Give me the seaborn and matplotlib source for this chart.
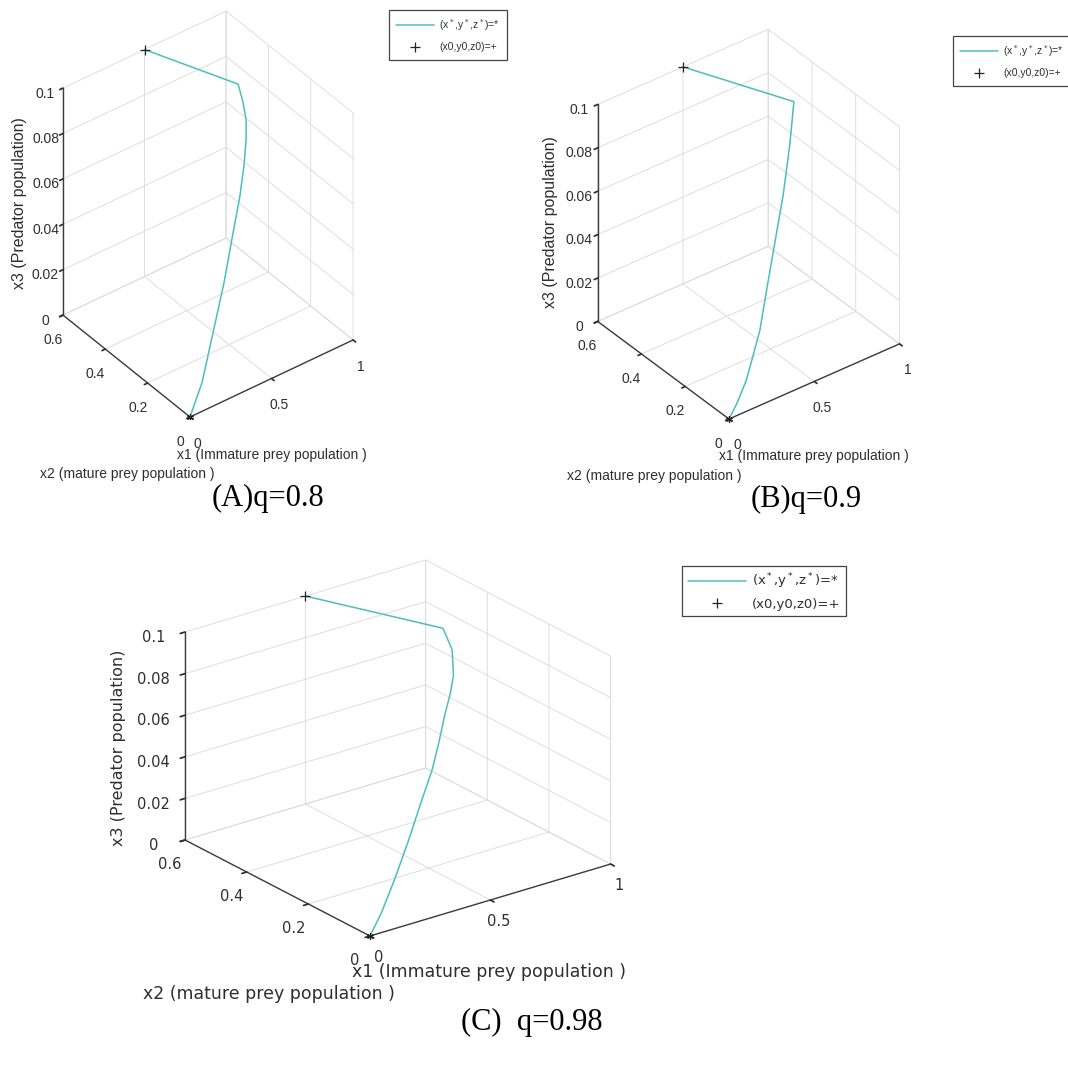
import matplotlib
matplotlib.use("Agg")
import matplotlib.pyplot as plt
from mpl_toolkits.mplot3d import proj3d
import seaborn as sns

sns.set_theme(style="white")
plt.rcParams["font.family"] = ["Liberation Sans", "DejaVu Sans"]
plt.rcParams["grid.color"] = "#d9d9d9"
plt.rcParams["grid.linewidth"] = 0.6
plt.rcParams["axes3d.grid"] = True

W, H = 1068, 1074

# ---- axis ticks -------------------------------------------------------
x1_ticks = [0, 0.5, 1]
x1_ticklabels = ["0", "0.5", "1"]
x2_ticks = [0, 0.2, 0.4, 0.6]
x2_ticklabels = ["0", "0.2", "0.4", "0.6"]
x3_ticks = [0, 0.02, 0.04, 0.06, 0.08, 0.1]
x3_ticklabels = ["0", "0.02", "0.04", "0.06", "0.08", "0.1"]

x1_label = "x1 (Immature prey population )"
x2_label = "x2 (mature prey population )"
x3_label = "x3 (Predator population)"
legend_labels = ["(x$^*$,y$^*$,z$^*$)=*", "(x0,y0,z0)=+"]

# ---- solution trajectories (x1, x2, x3) for each fractional order q ----
q_values = [0.8, 0.9, 0.98]
captions = ["(A)q=0.8", "(B)q=0.9", "(C)  q=0.98"]

x1_q080 = [0.50, 0.695, 0.660, 0.617, 0.562, 0.495, 0.424, 0.342, 0.255,
           0.164, 0.081, 0.0]
x2_q080 = [0.60, 0.308, 0.258, 0.210, 0.168, 0.126, 0.090, 0.060, 0.036,
           0.018, 0.006, 0.0]
x3_q080 = [0.100, 0.100, 0.0970, 0.0942, 0.0904, 0.0848, 0.0767, 0.065,
           0.0477, 0.030, 0.0118, 0.0]

x1_q090 = [0.50, 0.736, 0.588, 0.456, 0.343, 0.270, 0.208, 0.155, 0.109,
           0.050, 0.0]
x2_q090 = [0.60, 0.277, 0.180, 0.108, 0.060, 0.038, 0.021, 0.012, 0.006,
           0.002, 0.0]
x3_q090 = [0.100, 0.100, 0.0928, 0.0792, 0.0636, 0.0475, 0.0321, 0.0225,
           0.0136, 0.0055, 0.0]

x1_q098 = [0.50, 0.699, 0.668, 0.616, 0.545, 0.465, 0.400, 0.336, 0.260,
           0.190, 0.119, 0.054, 0.0]
x2_q098 = [0.60, 0.309, 0.255, 0.210, 0.165, 0.120, 0.088, 0.060, 0.040,
           0.024, 0.012, 0.0048, 0.0]
x3_q098 = [0.100, 0.100, 0.095, 0.0879, 0.0850, 0.0812, 0.073, 0.064,
           0.051, 0.0372, 0.0226, 0.009, 0.0]

trajectories = [
    (x1_q080, x2_q080, x3_q080),
    (x1_q090, x2_q090, x3_q090),
    (x1_q098, x2_q098, x3_q098),
]

# ---- layout of the three panels (pixel units, origin at top-left) -----
panels = [
    dict(elev=38.0, azim=-127.5, aspect=(205.5, 208.6, 288.0),
         origin=(190, 417), zlen=227, fs=10, lfs=10, zfs=11.5,
         family=["Liberation Sans", "DejaVu Sans"], pads=(1, 1, 1),
         legend=(389, 10), leg_fs=7.5, leg_hl=3.6, leg_bp=0.7, leg_ls=0.9,
         lab1=(177, 455), lab2=(40, 474), lab3=(20, 203),
         caption=(268, 498)),
    dict(elev=34.9, azim=-127.6, aspect=(218.0, 218.0, 268.0),
         origin=(729, 419), zlen=217, fs=10, lfs=10, zfs=11.5,
         family=["Liberation Sans", "DejaVu Sans"], pads=(1, 1, 1),
         legend=(953, 36), leg_fs=7.5, leg_hl=3.6, leg_bp=0.7, leg_ls=0.9,
         lab1=(719, 456), lab2=(567, 476), lab3=(550, 222),
         caption=(806, 499)),
    dict(elev=23.2, azim=-127.2, aspect=(315.0, 319.0, 236.0),
         origin=(370, 936), zlen=208, fs=10.5, lfs=12.5, zfs=11.5,
         family=["DejaVu Sans"], pads=(0, 3, 5),
         legend=(682, 566), leg_fs=9.5, leg_hl=4.4, leg_bp=0.42, leg_ls=0.5,
         lab1=(352, 972), lab2=(143, 994), lab3=(118, 748),
         caption=(532, 1022)),
]

line_color = "#4dbdbd"
axis_color = "#3c3c3c"
text_color = "#2e2e2e"

fig = plt.figure(figsize=(W / 100, H / 100), dpi=100)
fig.patch.set_facecolor("white")


def fit_axes(ax, origin_px, zlen_px):
    """Scale and shift a 3D axes so the projected box has the wanted size."""
    ax.set_position([0.3, 0.3, 0.4, 0.4])
    fig.canvas.draw()
    M = ax.get_proj()

    def disp(x, y, z):
        xs, ys, _ = proj3d.proj_transform(x, y, z, M)
        return ax.transData.transform((xs, ys))

    o = disp(0, 0, 0)
    t = disp(0, 0, x3_ticks[-1])
    bb = ax.get_position().transformed(fig.transFigure)
    s0 = bb.width
    cx0, cy0 = bb.x0 + bb.width / 2, bb.y0 + bb.height / 2
    s = s0 * zlen_px / (t[1] - o[1])
    dx, dy = (o[0] - cx0) / s0, (o[1] - cy0) / s0
    tx, ty = origin_px[0], H - origin_px[1]
    cx, cy = tx - dx * s, ty - dy * s
    ax.set_position([(cx - s / 2) / W, (cy - s / 2) / H, s / W, s / H])


for spec, (x1, x2, x3), cap in zip(panels, trajectories, captions):
    fam = spec["family"]
    ax = fig.add_subplot(projection="3d", proj_type="ortho")
    ax.set_facecolor((1, 1, 1, 0))
    ax.view_init(elev=spec["elev"], azim=spec["azim"])
    ax.set_box_aspect(spec["aspect"])
    ax.set_xlim(x1_ticks[0], x1_ticks[-1])
    ax.set_ylim(x2_ticks[0], x2_ticks[-1])
    ax.set_zlim(x3_ticks[0], x3_ticks[-1])
    ax.set_xticks(x1_ticks, x1_ticklabels)
    ax.set_yticks(x2_ticks, x2_ticklabels)
    ax.set_zticks(x3_ticks, x3_ticklabels)
    ax.tick_params(labelsize=spec["fs"], colors=text_color)
    for axis, pad in zip((ax.xaxis, ax.yaxis, ax.zaxis), spec["pads"]):
        axis.set_tick_params(pad=pad)
    for lbl in (ax.get_xticklabels() + ax.get_yticklabels()
                + ax.get_zticklabels()):
        lbl.set_family(fam)
    for axis in (ax.xaxis, ax.yaxis, ax.zaxis):
        axis.set_pane_color((1, 1, 1, 0))
        axis.pane.set_edgecolor("#d9d9d9")
        axis.line.set_color(axis_color)
        axis.line.set_linewidth(1.0)
        axis._axinfo["tick"]["color"] = axis_color
        axis._axinfo["tick"]["inward_factor"] = 0.25
        axis._axinfo["tick"]["outward_factor"] = 0.0
    ax.grid(True)

    h_line, = ax.plot(x1, x2, x3, color=line_color, lw=1.1)
    h_start, = ax.plot([x1[0]], [x2[0]], [x3[0]], ls="none", marker="+",
                       ms=7, mew=0.9, color="#222222")
    ax.plot([x1[-1]], [x2[-1]], [x3[-1]], ls="none", marker=(6, 2, 0),
            ms=5, mew=0.9, color="#222222")

    fit_axes(ax, spec["origin"], spec["zlen"])

    lx, ly = spec["legend"]
    leg = ax.legend([h_line, h_start], legend_labels, loc="upper left",
                    bbox_to_anchor=(lx / W, 1 - ly / H),
                    bbox_transform=fig.transFigure,
                    prop=dict(size=spec["leg_fs"], family=fam),
                    frameon=True, fancybox=False, framealpha=1,
                    edgecolor="#444444", borderpad=spec["leg_bp"],
                    labelspacing=spec["leg_ls"],
                    handlelength=spec["leg_hl"], handletextpad=0.5,
                    borderaxespad=0)
    leg.get_frame().set_linewidth(0.9)
    for t in leg.get_texts():
        t.set_color(text_color)

    lfs = spec["lfs"]
    fig.text(spec["lab1"][0] / W, 1 - spec["lab1"][1] / H, x1_label,
             ha="left", va="center", fontsize=lfs, family=fam,
             color=text_color)
    fig.text(spec["lab2"][0] / W, 1 - spec["lab2"][1] / H, x2_label,
             ha="left", va="center", fontsize=lfs, family=fam,
             color=text_color)
    fig.text(spec["lab3"][0] / W, 1 - spec["lab3"][1] / H, x3_label,
             ha="center", va="center", rotation=90, fontsize=spec["zfs"],
             family=fam, color=text_color)
    fig.text(spec["caption"][0] / W, 1 - spec["caption"][1] / H, cap,
             ha="center", va="center", fontsize=22,
             family=["Liberation Serif", "DejaVu Serif"], color="black")

fig.savefig("out.png", dpi=100, facecolor="white")
